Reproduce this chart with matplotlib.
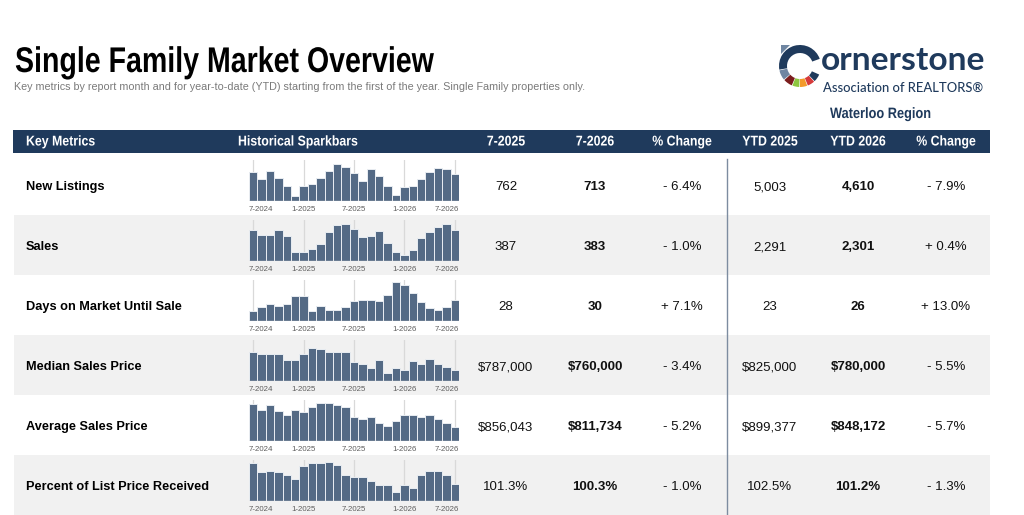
import matplotlib
matplotlib.use('Agg')
import matplotlib.pyplot as plt
from matplotlib.patches import Rectangle, Wedge, Polygon
from matplotlib.patheffects import AbstractPathEffect
import matplotlib.transforms as mtransforms

# ---- data ----
metrics = ['New Listings', 'Sales', 'Days on Market Until Sale',
           'Median Sales Price', 'Average Sales Price', 'Percent of List Price Received']
col_heads = ['7-2025', '7-2026', '% Change', 'YTD 2025', 'YTD 2026', '% Change']
m2025 = ['762', '387', '28', '$787,000', '$856,043', '101.3%']
m2026 = ['713', '383', '30', '$760,000', '$811,734', '100.3%']
m_chg = ['- 6.4%', '- 1.0%', '+ 7.1%', '- 3.4%', '- 5.2%', '- 1.0%']
ytd2025 = ['5,003', '2,291', '23', '$825,000', '$899,377', '102.5%']
ytd2026 = ['4,610', '2,301', '26', '$780,000', '$848,172', '101.2%']
ytd_chg = ['- 7.9%', '+ 0.4%', '+ 13.0%', '- 5.5%', '- 5.7%', '- 1.3%']

spark_ticks = ['7-2024', '1-2025', '7-2025', '1-2026', '7-2026']
spark_tick_idx = [0, 6, 12, 18, 24]

# monthly history 7-2024 .. 7-2026 (25 months)
new_listings = [788, 582, 815, 627, 412, 125, 412, 448, 627, 815, 995, 923, 762,
                547, 869, 681, 412, 152, 367, 394, 582, 788, 896, 860, 713]
sales = [379, 313, 313, 374, 305, 110, 110, 147, 208, 350, 444, 456, 387,
         289, 301, 362, 216, 110, 73, 134, 277, 358, 419, 456, 383]
days_on_market = [14, 19, 24, 21, 24, 35, 35, 14, 21, 16, 16, 19, 28,
                  30, 30, 28, 36, 54, 50, 39, 27, 18, 16, 19, 30]
median_price = [823000, 816000, 816000, 816000, 796000, 796000, 816000, 836000, 832000,
                823000, 823000, 823000, 787000, 782000, 767000, 794000, 750000, 767000,
                760000, 790000, 780000, 797000, 780000, 771000, 760000]
average_price = [916600, 890000, 912200, 885600, 864900, 890000, 879700, 903300, 919600,
                 919600, 912200, 903300, 856043, 847200, 856000, 832400, 819100, 838300,
                 864900, 864900, 859000, 867900, 850100, 832400, 811734]
pct_list = [103.2, 102.0, 102.1, 102.0, 101.6, 101.0, 102.8, 103.2, 103.2, 103.3, 102.9,
            101.6, 101.3, 101.2, 100.7, 100.2, 100.2, 99.2, 100.2, 99.7, 101.5, 102.1,
            102.1, 101.6, 100.3]
series = [new_listings, sales, days_on_market, median_price, average_price, pct_list]
# value range shown by each sparkbar
spark_lo = [0, 0, 0, 724000, 749700, 97.94]
spark_hi = [1102, 500, 57.4, 862000, 934300, 103.62]

# ---- figure ----
W, H = 1024, 515
fig = plt.figure(figsize=(W / 100, H / 100), dpi=100)
ax = fig.add_axes([0, 0, 1, 1])
ax.set_xlim(0, W)
ax.set_ylim(H, 0)
ax.axis('off')

NAVY = '#1f3a5c'
BAR = '#546a85'
ROWGRAY = '#f1f1f1'
BODY = ['Liberation Sans', 'DejaVu Sans']
LOGO = ['Lato', 'Liberation Sans', 'DejaVu Sans']
renderer = fig.canvas.get_renderer()


class HScale(AbstractPathEffect):
    """squeeze a text horizontally around its anchor (condensed look)"""

    def __init__(self, sx, x_anchor):
        super().__init__()
        self.sx = sx
        self.x_anchor = x_anchor

    def draw_path(self, renderer, gc, tpath, affine, rgbFace=None):
        x0 = ax.transData.transform((self.x_anchor, 0))[0]
        squeeze = mtransforms.Affine2D().translate(-x0, 0).scale(self.sx, 1).translate(x0, 0)
        renderer.draw_path(gc, tpath, affine + squeeze, rgbFace)


def cond_text(x, y, s, sx=0.82, **kw):
    return ax.text(x, y, s, path_effects=[HScale(sx, x)], **kw)


def fit_text(x, y, s, width, sx=1.0, **kw):
    if sx != 1.0:
        t = cond_text(x, y, s, sx=sx, **kw)
    else:
        t = ax.text(x, y, s, **kw)
    w = t.get_window_extent(renderer=renderer).width * sx
    t.set_fontsize(t.get_fontsize() * width / w)
    return t


# title block
fit_text(15, 72, 'Single Family Market Overview', 418, sx=0.80, family=BODY,
         weight='bold', fontsize=22, color='black', va='baseline')
fit_text(14, 90.5, 'Key metrics by report month and for year-to-date (YTD) starting from '
         'the first of the year. Single Family properties only.', 565,
         family=BODY, fontsize=7, color='#7a7a7a', va='baseline')

# logo ring (visual angles, y axis is inverted so negate)
cx, cy, r_out, r_in = 800, 66, 21, 13
segs = [(20, 190, NAVY), (192, 220, '#6f86a2'), (222, 247, '#7b1d1d'),
        (249, 268, '#8dc63f'), (270, 290, '#f39a2b'), (292, 312, '#d63a3a'),
        (314, 336, NAVY)]
for a0, a1, c in segs:
    ax.add_patch(Wedge((cx, cy), r_out, -a1, -a0, width=r_out - r_in,
                       facecolor=c, edgecolor='none'))
ax.add_patch(Polygon([[781, 45], [790, 45], [781, 54]], closed=True,
                     facecolor='#6f86a2', edgecolor='none'))
fit_text(821, 70, 'ornerstone', 164, family=LOGO, weight='bold', fontsize=22,
         color=NAVY, va='baseline')
fit_text(823, 92, 'Association of REALTORS\u00ae', 160, family=LOGO, weight='medium',
         fontsize=9, color=NAVY, va='baseline')
fit_text(830, 118, 'Waterloo Region', 101, sx=0.85, family=BODY, weight='bold',
         fontsize=10, color=NAVY, va='baseline')

# header bar
ax.add_patch(Rectangle((13, 130), 977, 23, facecolor=NAVY, edgecolor='none'))
hy = 141.5
HEAD_SX = 0.87
cond_text(26, hy, 'Key Metrics', sx=HEAD_SX, family=BODY, weight='bold', fontsize=10.2,
          color='white', va='center', ha='left')
cond_text(238, hy, 'Historical Sparkbars', sx=HEAD_SX, family=BODY, weight='bold',
          fontsize=10.2, color='white', va='center', ha='left')
col_x = [506, 595, 682, 770, 858, 946]
for x, s in zip(col_x, col_heads):
    cond_text(x, hy, s, sx=HEAD_SX, family=BODY, weight='bold', fontsize=10.2,
              color='white', va='center', ha='center')

# rows
row_h = 60
row0 = 155
for i in range(len(metrics)):
    top = row0 + i * row_h
    if i % 2 == 1:
        ax.add_patch(Rectangle((14, top), 976, row_h, facecolor=ROWGRAY,
                               edgecolor='none', zorder=0))
    yc = top + 32
    ax.text(26, yc, metrics[i], family=BODY, weight='bold', fontsize=9.2,
            va='center', ha='left', color='black')
    cols = [m2025[i], m2026[i], m_chg[i], ytd2025[i], ytd2026[i], ytd_chg[i]]
    bold = [False, True, False, False, True, False]
    for x, s, b in zip(col_x, cols, bold):
        ax.text(x, yc, s, family=BODY, weight='bold' if b else 'normal',
                fontsize=9.5, va='center', ha='center', color='#111111')

    # sparkbar axes
    sx0, sx1 = 249, 459
    sy0, sy1 = top + 5, top + 46
    sax = fig.add_axes([sx0 / W, 1 - sy1 / H, (sx1 - sx0) / W, (sy1 - sy0) / H])
    sax.patch.set_alpha(0)
    vals = series[i]
    idx = list(range(len(vals)))
    for k in spark_tick_idx:
        sax.axvline(k, color='#d9d9d9', lw=0.9, zorder=0)
    sax.bar(idx, vals, width=1.0, bottom=0, color=BAR, edgecolor='#e9edf2',
            linewidth=0.7, zorder=2)
    sax.set_xlim(-0.5, len(vals) - 0.5)
    sax.set_ylim(spark_lo[i], spark_hi[i])
    sax.axhline(spark_lo[i], color='#c8c8c8', lw=1, zorder=3)
    sax.axis('off')
    trans = mtransforms.blended_transform_factory(sax.transData, sax.transAxes)
    for j, (k, lab) in enumerate(zip(spark_tick_idx, spark_ticks)):
        if j == 0:
            kx, ha = -0.5, 'left'
        elif j == len(spark_ticks) - 1:
            kx, ha = len(vals) - 0.5, 'right'
        else:
            kx, ha = k, 'center'
        sax.text(kx, -0.2, lab, transform=trans, ha=ha, va='center',
                 family=BODY, fontsize=5.7, color='#5e5e5e')

# divider between monthly and YTD columns
ax.plot([727, 727], [159, H], color='#7d8ca0', lw=1)

fig.savefig('out.png', dpi=100)
